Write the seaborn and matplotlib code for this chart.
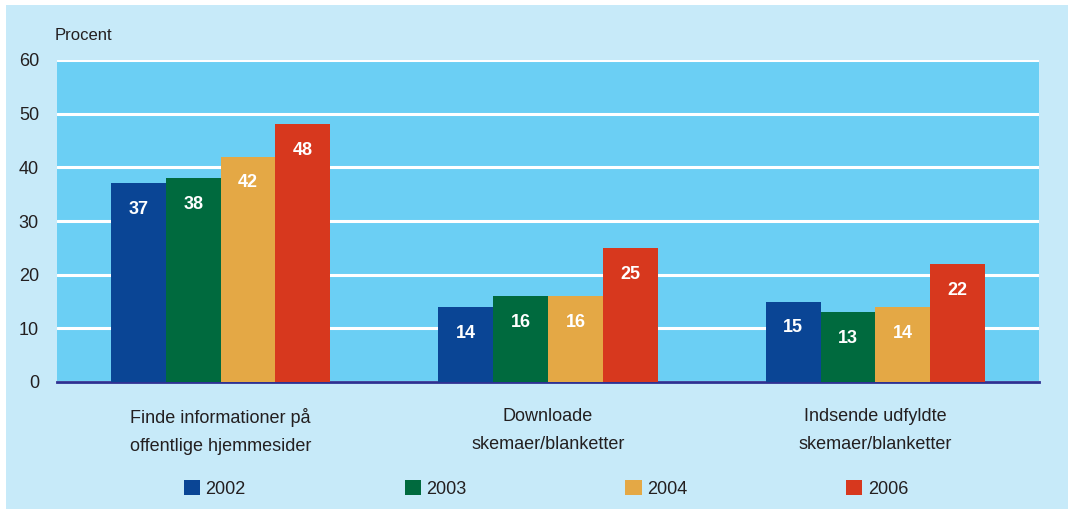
import matplotlib
matplotlib.use("Agg")
import matplotlib.pyplot as plt
from matplotlib import font_manager
from matplotlib.patches import Rectangle
import seaborn as sns
import pandas as pd

# Data
categories = ["Finde informationer på\noffentlige hjemmesider",
              "Downloade\nskemaer/blanketter",
              "Indsende udfyldte\nskemaer/blanketter"]
years = ["2002", "2003", "2004", "2006"]
values_2002 = [37, 14, 15]
values_2003 = [38, 16, 13]
values_2004 = [42, 16, 14]
values_2006 = [48, 25, 22]
y_ticks = [0, 10, 20, 30, 40, 50, 60]

colors = ["#0a4595", "#006a3e", "#e4a845", "#d7381e"]
outer_bg = "#c7eaf9"
plot_bg = "#6bcff4"
text_col = "#231f20"

rows = []
for yr, vals in zip(years, [values_2002, values_2003, values_2004, values_2006]):
    for cat, v in zip(categories, vals):
        rows.append({"Kategori": cat, "År": yr, "Procent": v})
df = pd.DataFrame(rows)

sns.set_theme(style="white")
available = {f.name for f in font_manager.fontManager.ttflist}
family = ["Liberation Sans Narrow", "DejaVu Sans"] if "Liberation Sans Narrow" in available else ["Liberation Sans", "DejaVu Sans"]
plt.rcParams["font.family"] = family

fig = plt.figure(figsize=(10.68, 5.09), dpi=100)
fig.patch.set_facecolor("white")
# light panel behind the chart
panel = Rectangle((6 / 1068, 0), 1 - 6 / 1068, 1 - 5 / 509,
                  transform=fig.transFigure, facecolor=outer_bg,
                  edgecolor="none", zorder=-10)
fig.add_artist(panel)

ax = fig.add_axes([57 / 1068, 1 - 382 / 509, (1039 - 57) / 1068, (382 - 60) / 509])
ax.set_zorder(1)
ax.set_facecolor(plot_bg)

sns.barplot(data=df, x="Kategori", y="Procent", hue="År", hue_order=years,
            palette=colors, width=0.67, gap=0, saturation=1, ax=ax,
            edgecolor="none", linewidth=0, errorbar=None, zorder=3)

ax.set_ylim(0, 60)
ax.set_xlim(-0.5, 2.5)
ax.set_yticks(y_ticks)
ax.yaxis.grid(True, color="white", linewidth=2.2, zorder=1)
ax.set_axisbelow(True)
for s in ["top", "right", "left"]:
    ax.spines[s].set_visible(False)
ax.spines["bottom"].set_color("#2e3192")
ax.spines["bottom"].set_linewidth(2)
ax.tick_params(axis="both", length=0, labelsize=13, colors=text_col)
ax.tick_params(axis="y", pad=13)
ax.tick_params(axis="x", pad=19)
for lbl in ax.get_xticklabels():
    lbl.set_linespacing(1.8)
    lbl.set_va("top")
ax.set_xlabel("")
ax.set_ylabel("")

# value labels inside the top of each bar
for container in ax.containers:
    ax.bar_label(container, labels=[f"{v:.0f}" for v in container.datavalues],
                 label_type="edge", padding=-25, color="white",
                 fontsize=13, fontweight="bold", zorder=5)

fig.text(55 / 1068, 1 - 36 / 509, "Procent", fontsize=12, color=text_col,
         ha="left", va="center")

handles, labels = ax.get_legend_handles_labels()
ax.legend_.remove()
leg = fig.legend(handles, labels, loc="center", bbox_to_anchor=(546 / 1068, 1 - 489 / 509),
                 ncol=4, frameon=False, fontsize=13, handlelength=0.9, handleheight=0.9,
                 handletextpad=0.3, columnspacing=8.8, labelcolor=text_col)

fig.savefig("out.png", dpi=100, facecolor=fig.get_facecolor())
